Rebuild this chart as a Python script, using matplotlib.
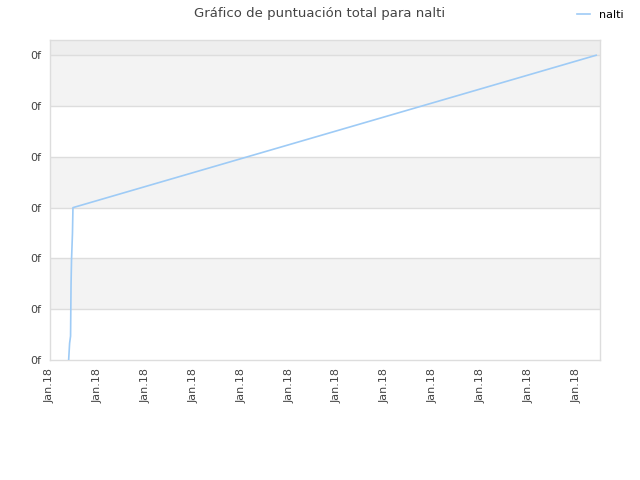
import matplotlib
matplotlib.use('Agg')
import matplotlib.pyplot as plt

plt.rcParams['font.family'] = ['DejaVu Sans']

# 数据：x 为日期刻度序号，y 为总分
X_VALUES = [0.39, 0.41, 0.43, 0.44, 0.45, 0.47, 0.48, 11.42]
Y_VALUES = [0.0, 0.33, 0.47, 1.48, 1.97, 2.5, 3.0, 6.0]
X_TICKS = list(range(12))
X_TICK_LABELS = ['Jan.18'] * 12
Y_TICKS = [0, 1, 2, 3, 4, 5, 6]
Y_TICK_LABELS = ['0f'] * 7

LINE_COLOR = '#9ecbf6'
TEXT_COLOR = '#444444'

fig = plt.figure(figsize=(6.4, 4.8), dpi=100)
ax = fig.add_axes([50 / 640, 120 / 480, 550 / 640, 320 / 480])

ax.set_xlim(0, 11.5)
ax.set_ylim(0, 6.3)

# 交替背景条
for i in range(len(Y_TICKS) - 1):
    if i % 2 == 1:
        ax.axhspan(Y_TICKS[i], Y_TICKS[i + 1], color='#f3f3f3', zorder=0, lw=0)
ax.axhspan(Y_TICKS[-1], 6.3, color='#eeeeee', zorder=0, lw=0)
for t in Y_TICKS[1:]:
    ax.axhline(t, color='#dddddd', lw=1, zorder=1)

ax.plot(X_VALUES, Y_VALUES, color=LINE_COLOR, lw=1.2, label='nalti', zorder=3)

ax.set_yticks(Y_TICKS)
ax.set_yticklabels(Y_TICK_LABELS, fontsize=8, color=TEXT_COLOR)
ax.set_xticks(X_TICKS)
ax.set_xticklabels(X_TICK_LABELS, rotation=90, fontsize=8, color=TEXT_COLOR)
ax.tick_params(axis='both', length=0, pad=6)

for s in ax.spines.values():
    s.set_color('#dddddd')
    s.set_linewidth(1)

fig.text(0.5, 1 - 13 / 480, 'Gráfico de puntuación total para nalti',
         ha='center', va='center', fontsize=9.5, color=TEXT_COLOR)

fig.legend(loc='upper right', bbox_to_anchor=(0.99, 1.0), frameon=False,
           fontsize=8, handlelength=1.2, handletextpad=0.8)

fig.savefig('out.png', dpi=100)
